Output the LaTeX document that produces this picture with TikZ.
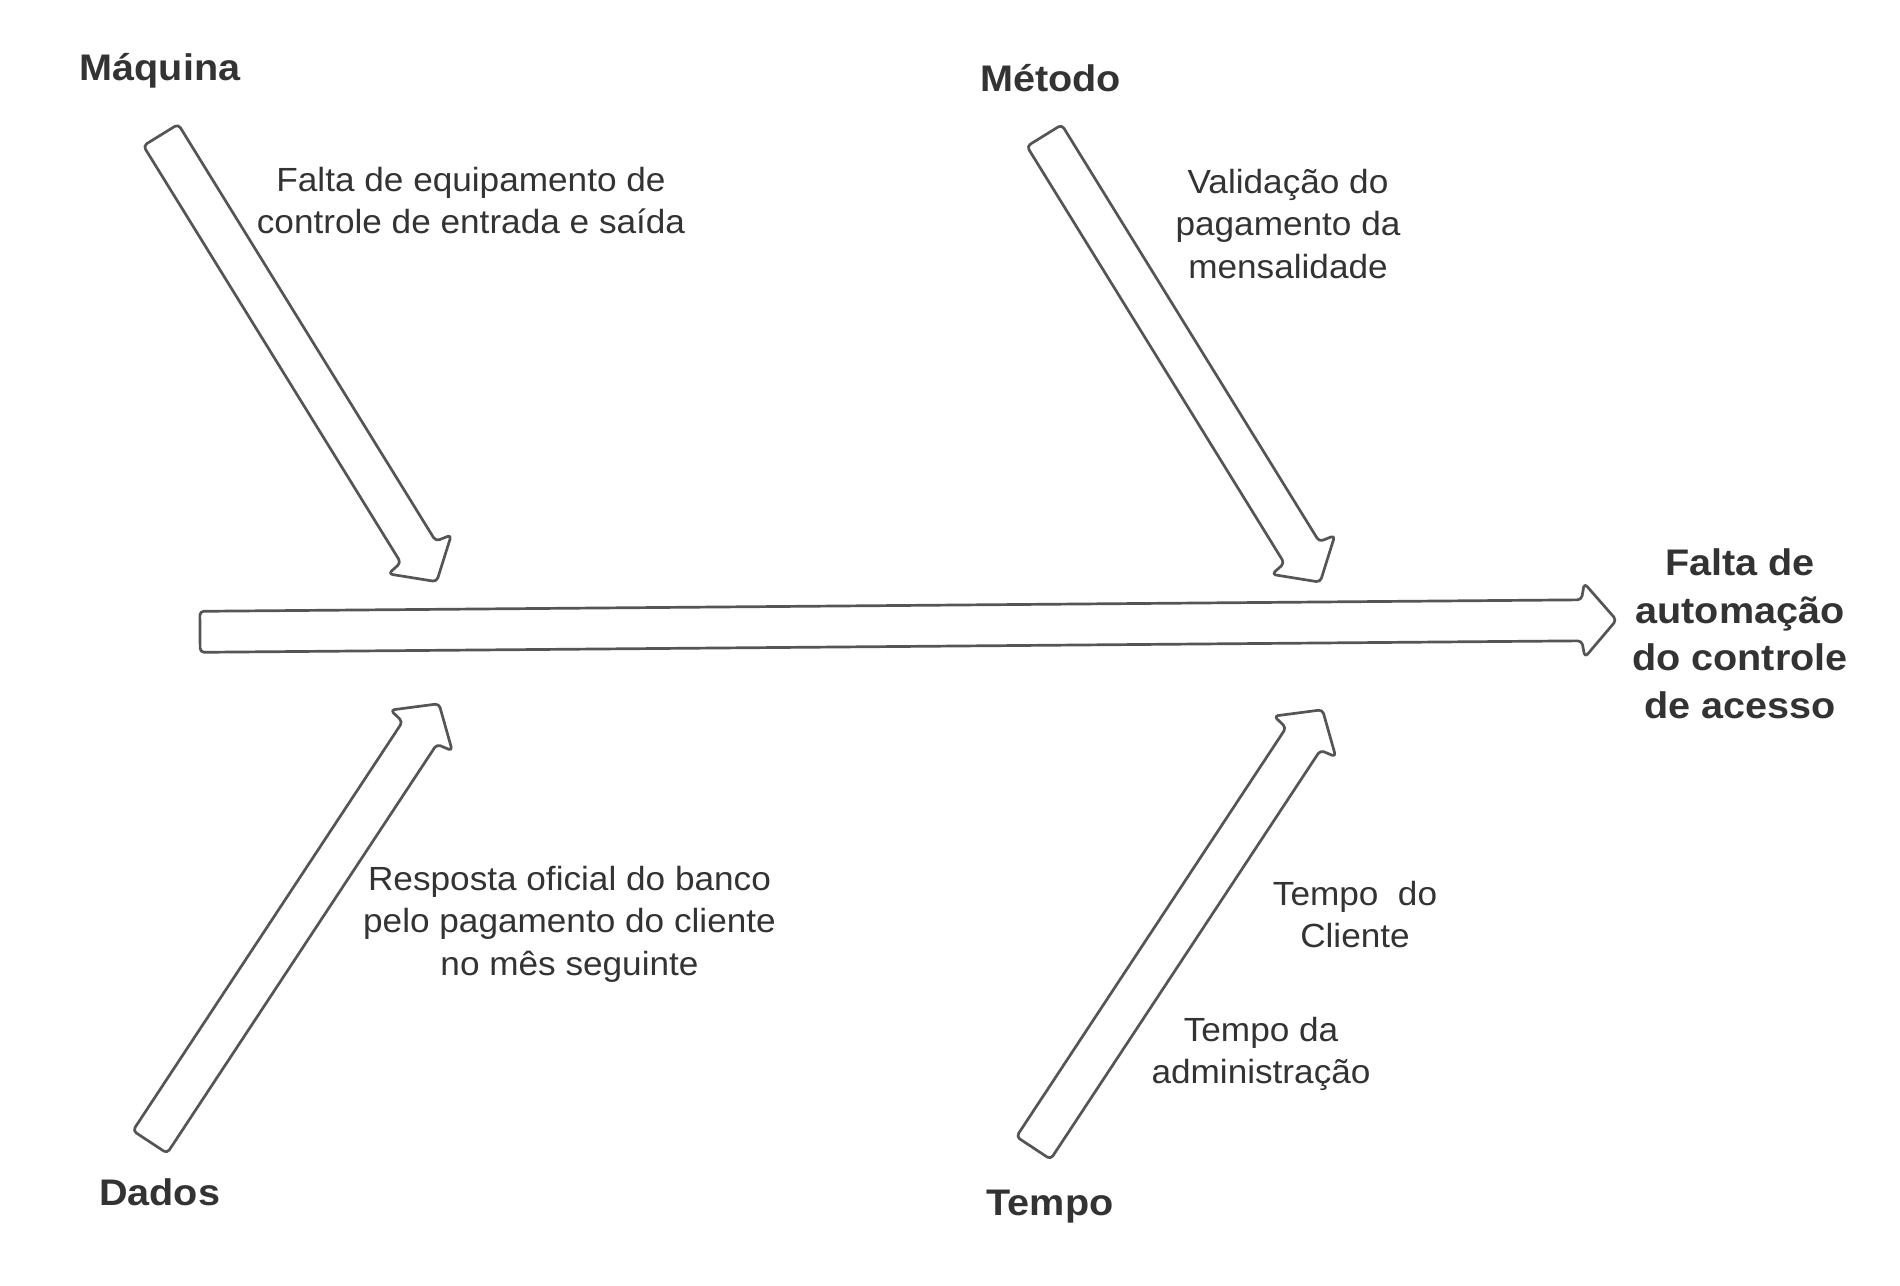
\documentclass[tikz,border=0pt]{standalone}
\usepackage{fontspec}
\setmainfont{Liberation Sans}[FakeStretch=1.05]
\newfontfamily\labfont{Liberation Sans}[FakeStretch=1.07]
\definecolor{txt}{HTML}{333333}
\definecolor{edge}{HTML}{555555}
\tikzset{
  blockarrow/.style={draw=edge, line width=2.7pt, fill=white, rounded corners=4pt, line join=round},
  catlabel/.style={font=\labfont\bfseries\fontsize{37}{47.7}\selectfont, text=txt, inner sep=0pt, align=center},
  causetext/.style={font=\fontsize{33.5}{42.4}\selectfont, text=txt, inner sep=0pt, align=center},
}
% #1 name, #2 #3 tail centre, #4 angle, #5 length
\newcommand{\fisharrow}[5]{%
  \begin{scope}[shift={(#2,#3)}, rotate=#4]
    \coordinate (#1tail) at (0,0);
    \coordinate (#1tip) at ({#5},0);
    \draw[blockarrow] (0,-20.5) -- ({#5-35},-20.5) -- ({#5-32},-37) -- (#1tip)
      -- ({#5-32},37) -- ({#5-35},20.5) -- (0,20.5) -- cycle;
  \end{scope}}
\begin{document}
\begin{tikzpicture}[x=1pt,y=-1pt]
\fill[white] (0,0) rectangle (1900,1285);
\useasboundingbox (0,0) rectangle (1900,1285);

% spine and bones
\fisharrow{main}{200}{631.8}{0.477}{1416.7}
\fisharrow{maq}{160.8}{135}{-58.3}{525}
\fisharrow{met}{1044.3}{135.5}{-58.3}{525}
\fisharrow{dad}{150}{1142}{56.6}{525}
\fisharrow{tem}{1033.5}{1148}{56.6}{525}

% category labels
\node[catlabel, anchor=base] (maquina) at (160,80.7) {Máquina};
\node[catlabel, anchor=base] (metodo) at (1050.5,91.5) {Método};
\node[catlabel, anchor=base] (dados) at (159.6,1205) {Dados};
\node[catlabel, anchor=base] (tempo) at (1050,1215) {Tempo};

% effect
\node[catlabel, anchor=north] (efeito) at (1740,548.5) {Falta de\\automação\\do controle\\de acesso};

% causes
\node[causetext, anchor=north] (c1) at (471,167) {Falta de equipamento de\\controle de entrada e saída};
\node[causetext, anchor=north] (c2) at (1288,169) {Validação do\\pagamento da\\mensalidade};
\node[causetext, anchor=north] (c3) at (569.5,866) {Resposta oficial do banco\\pelo pagamento do cliente\\no mês seguinte};
\node[causetext, anchor=north] (c4) at (1355,881) {Tempo\ \ do\\Cliente};
\node[causetext, anchor=north] (c5) at (1261,1017) {Tempo da\\administração};
\end{tikzpicture}
\end{document}
